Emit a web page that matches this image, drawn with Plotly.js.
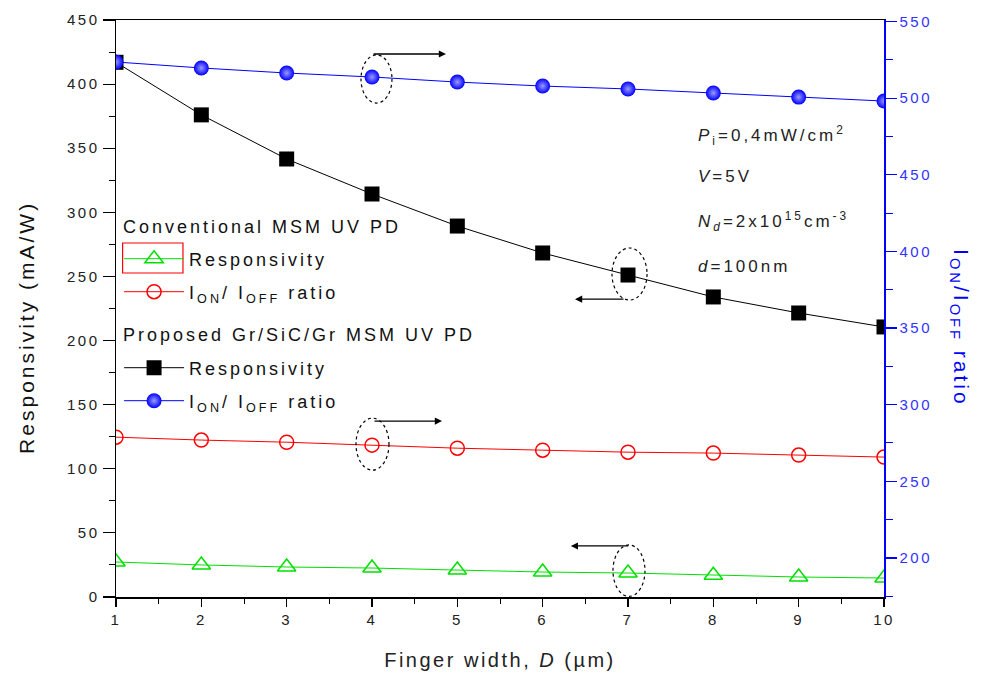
<!DOCTYPE html>
<html>
<head>
<meta charset="utf-8">
<script src="https://cdn.plot.ly/plotly-3.0.1.min.js"></script>
<style>
html,body{margin:0;padding:0;background:#fff}
#chart{width:982px;height:684px}
.xtick text, .ytick text, .y2tick text { letter-spacing: 2.5px; }
.legendtext, .legend2text, .legend3text, .legend4text { letter-spacing: 3px; }
.annotation-text { letter-spacing: 3px; }
.xtitle { letter-spacing: 2.5px; }
</style>
</head>
<body>
<div id="chart"></div>
<script>
// Finger width D (µm)
const fingerWidth = [1, 2, 3, 4, 5, 6, 7, 8, 9, 10];
// Conventional MSM UV PD
const convResponsivity = [27.3, 25.0, 23.4, 22.6, 21.0, 19.5, 18.7, 17.0, 15.6, 14.8];   // mA/W (left)
const convOnOff = [278.8, 276.9, 275.5, 273.6, 271.6, 270.3, 269.0, 268.4, 267.1, 265.8]; // ratio (right)
// Proposed Gr/SiC/Gr MSM UV PD
const propResponsivity = [417, 376, 341.6, 314.3, 289.3, 268.3, 251.1, 234, 221.5, 210.6]; // mA/W (left)
const propOnOff = [523.6, 519.7, 516.4, 513.8, 510.5, 507.9, 506.0, 503.4, 500.7, 498.1]; // ratio (right)

const xTicks = [1, 2, 3, 4, 5, 6, 7, 8, 9, 10];
const leftTicks = [0, 50, 100, 150, 200, 250, 300, 350, 400, 450];
const rightTicks = [200, 250, 300, 350, 400, 450, 500, 550];

const FONT = 'Liberation Sans, Arial, sans-serif';
const LEGFONT = {family: FONT, size: 18, color: '#111'};

function legendBox(yCenter) {
  return {x: 0.004, y: yCenter, xanchor: 'left', yanchor: 'middle',
          bgcolor: 'rgba(0,0,0,0)', font: LEGFONT, itemwidth: 60, borderwidth: 0};
}

const traces = [
  {
    x: fingerWidth, y: convResponsivity, yaxis: 'y', mode: 'lines+markers',
    name: 'Responsivity', legend: 'legend',
    line: {color: '#00e000', width: 1},
    marker: {symbol: 'triangle-up-open', size: 16, color: '#00e000', line: {width: 1.5}}
  },
  {
    x: fingerWidth, y: convOnOff, yaxis: 'y2', mode: 'lines+markers',
    name: 'I<sub>ON</sub>/ I<sub>OFF</sub> ratio', legend: 'legend2',
    line: {color: '#ff0000', width: 1},
    marker: {symbol: 'circle-open', size: 14, color: '#ff0000', line: {width: 1.5}}
  },
  {
    x: fingerWidth, y: propResponsivity, yaxis: 'y', mode: 'lines+markers',
    name: 'Responsivity', legend: 'legend3',
    line: {color: '#000000', width: 1},
    marker: {symbol: 'square', size: 15, color: '#000000'}
  },
  {
    x: fingerWidth, y: propOnOff, yaxis: 'y2', mode: 'lines+markers',
    name: 'I<sub>ON</sub>/ I<sub>OFF</sub> ratio', legend: 'legend4',
    line: {color: '#0000ff', width: 1},
    marker: {symbol: 'circle', size: 15, color: '#0000ff',
             gradient: {type: 'radial', color: '#9a9aff'}}
  }
];

function ellipse(x0, x1, y0, y1, yref) {
  return {type: 'circle', xref: 'x', yref: yref, x0: x0, x1: x1, y0: y0, y1: y1,
          line: {color: '#000', width: 1.2, dash: 'dot'}, layer: 'above'};
}
function arrow(xh, yh, xt, yt, yref) {
  return {x: xh, y: yh, ax: xt, ay: yt, xref: 'x', yref: yref, axref: 'x', ayref: yref,
          text: '', showarrow: true, arrowhead: 2, arrowsize: 1.1, arrowwidth: 1.3, arrowcolor: '#000'};
}
function note(text, y) {
  return {xref: 'paper', yref: 'paper', x: 0.7565, y: y, xanchor: 'left', yanchor: 'middle',
          align: 'left', borderpad: 0,
          text: text, showarrow: false, font: {family: FONT, size: 17, color: '#222'}};
}
function header(text, y) {
  return {xref: 'paper', yref: 'paper', x: 0.008, y: y, xanchor: 'left', yanchor: 'middle',
          align: 'left', borderpad: 0,
          text: text, showarrow: false, font: LEGFONT};
}

const layout = {
  width: 982, height: 684,
  margin: {l: 116, r: 98, t: 20, b: 87},
  paper_bgcolor: '#fff', plot_bgcolor: '#fff',
  font: {family: FONT, color: '#222'},
  showlegend: true,
  legend: legendBox(0.5858),
  legend2: legendBox(0.5286),
  legend3: legendBox(0.3969),
  legend4: legendBox(0.3397),
  xaxis: {
    range: [1, 10], tickvals: xTicks, ticktext: xTicks.map(String),
    showline: true, linecolor: '#000', linewidth: 1.5, mirror: true,
    ticks: 'outside', ticklen: 8, tickwidth: 1.2, tickcolor: '#000',
    minor: {dtick: 0.5, ticklen: 5, tickwidth: 1, tickcolor: '#000', ticks: 'outside'},
    showgrid: false, zeroline: false,
    tickfont: {family: FONT, size: 15, color: '#222'},
    title: {text: 'Finger width, <i>D</i> (µm)', font: {family: FONT, size: 20, color: '#222'}, standoff: 26}
  },
  yaxis: {
    range: [0, 450], tickvals: leftTicks, ticktext: leftTicks.map(String),
    showline: true, linecolor: '#000', linewidth: 1.5,
    ticks: 'outside', ticklen: 12, tickwidth: 1.2, tickcolor: '#000',
    minor: {dtick: 25, ticklen: 6, tickwidth: 1, tickcolor: '#000', ticks: 'outside'},
    showgrid: false, zeroline: false,
    tickfont: {family: FONT, size: 15, color: '#222'}
  },
  yaxis2: {
    overlaying: 'y', side: 'right', range: [174.5, 551],
    tickvals: rightTicks, ticktext: rightTicks.map(String),
    showline: true, linecolor: '#0000ff', linewidth: 1.5,
    ticks: 'outside', ticklen: 11, tickwidth: 1.2, tickcolor: '#0000ff',
    minor: {dtick: 25, ticklen: 7, tickwidth: 1, tickcolor: '#0000ff', ticks: 'outside'},
    showgrid: false, zeroline: false,
    tickfont: {family: FONT, size: 15, color: '#3333ff'}
  },
  shapes: [
    ellipse(3.871, 4.234, 496.8, 528.2, 'y2'),
    ellipse(3.8125, 4.199, 257.3, 291.2, 'y2'),
    ellipse(6.8125, 7.223, 231.6, 272.2, 'y'),
    ellipse(6.824, 7.199, 0.5, 40.6, 'y'),
    {type: 'rect', xref: 'paper', yref: 'paper', x0: 0.0086, x1: 0.0872, y0: 0.5615, y1: 0.6135,
     line: {color: '#ff0000', width: 1.2}}
  ],
  annotations: [
    arrow(4.867, 528.8, 4.0, 528.8, 'y2'),
    arrow(4.82, 289.3, 4.012, 289.3, 'y2'),
    arrow(6.379, 232.3, 6.965, 232.3, 'y'),
    arrow(6.33, 39.8, 7.02, 39.8, 'y'),
    note('<i>P</i><sub>i</sub>=0,4mW/cm<sup>2</sup>', 0.80),
    note('<i>V</i>=5V', 0.728),
    note('<i>N</i><sub><i>d</i></sub>=2x10<sup>15</sup>cm<sup>-3</sup>', 0.65),
    note('<i>d</i>=100nm', 0.572),
    header('Conventional MSM UV PD', 0.6412),
    header('Proposed Gr/SiC/Gr MSM UV PD', 0.4541),
    {xref: 'paper', yref: 'paper', x: -0.116, y: 0.468, xanchor: 'center', yanchor: 'middle',
     text: 'Responsivity (mA/W)', textangle: -90, showarrow: false,
     font: {family: FONT, size: 21, color: '#111'}},
    {xref: 'paper', yref: 'paper', x: 1.099, y: 0.466, xanchor: 'center', yanchor: 'middle',
     text: 'I<sub>ON</sub>/I<sub>OFF</sub> ratio', textangle: 90, showarrow: false,
     font: {family: FONT, size: 21, color: '#0000ff'}}
  ]
};

Plotly.newPlot('chart', traces, layout, {displayModeBar: false, staticPlot: true});
</script>
</body>
</html>
